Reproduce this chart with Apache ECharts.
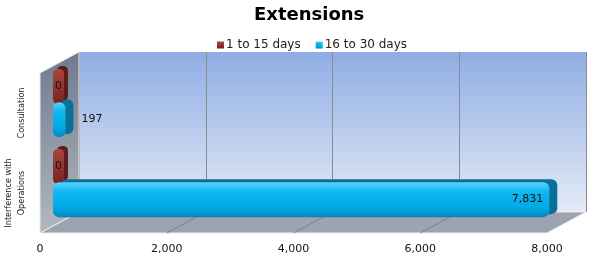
<!DOCTYPE html>
<html><head><meta charset="utf-8">
<script src="https://cdn.jsdelivr.net/npm/echarts@6/dist/echarts.min.js"></script>
<style>html,body{margin:0;padding:0;background:#fff}#c{width:590px;height:255px}</style>
</head><body><div id="c"></div>
<script>
const categories = ['Consultation', 'Interference with\nOperations'];
const seriesNames = ['1 to 15 days', '16 to 30 days'];
const days1to15 = [0, 0];
const days16to30 = [197, 7831];
const tickValues = [0, 2000, 4000, 6000, 8000];
const axisMax = 8000;

const FONT = 'DejaVu Sans';
// layout (front plane, back wall, bar plane)
const front = {left: 40, top: 73, width: 507, height: 160};
const back = {left: 79, top: 52, width: 507, height: 160};
const bars = {left: 53, top: 63, width: 507, height: 160};

const chart = echarts.init(document.getElementById('c'), null, {renderer: 'canvas'});
const fmt = v => v.toLocaleString('en-US');

const option = {
  animation: false,
  title: {text: 'Extensions', left: 249, top: 1,
    textStyle: {fontFamily: FONT, fontSize: 18, fontWeight: 'bold', color: '#000'}},
  legend: {left: 212, top: 34, itemWidth: 7, itemHeight: 7, itemGap: 15,
    icon: 'rect', data: seriesNames,
    textStyle: {fontFamily: FONT, fontSize: 12, color: '#222', padding: [0,0,0,-3]}},
  grid: [
    Object.assign({show: true, borderWidth: 0,
      backgroundColor: new echarts.graphic.LinearGradient(0,0,0,1,[
        {offset:0,color:'#8fade4'},{offset:1,color:'#e4ebf7'}])}, back),
    Object.assign({}, front),
    Object.assign({}, bars)
  ],
  xAxis: [
    {type:'value', gridIndex:0, min:0, max:axisMax, interval:2000,
     axisLine:{show:false}, axisTick:{show:false}, axisLabel:{show:false},
     splitLine:{show:true, lineStyle:{color:'#8c8c8c', width:1}}},
    {type:'value', gridIndex:1, min:0, max:axisMax, interval:2000,
     axisLine:{show:false}, axisTick:{show:false}, splitLine:{show:false},
     axisLabel:{show:true, margin:11, fontFamily:FONT, fontSize:11, color:'#111', formatter: v => fmt(v)}},
    {type:'value', gridIndex:2, min:0, max:axisMax, show:false}
  ],
  yAxis: [
    {type:'category', gridIndex:0, data:categories, show:false},
    {type:'category', gridIndex:1, data:categories, inverse:true,
     axisLine:{show:false}, axisTick:{show:false},
     axisLabel:{interval:0, rotate:90, margin:12, fontFamily:'DejaVu Sans Condensed, Liberation Sans, sans-serif', fontSize:9, color:'#222', lineHeight:13}},
    {type:'category', gridIndex:2, data:categories, inverse:true, show:false}
  ],
  series: [
    {name: seriesNames[0], type:'bar', xAxisIndex:2, yAxisIndex:2,
     data: days1to15, barWidth:35, barGap:'-5%', barMinHeight:11, z:3,
     itemStyle:{
       color: new echarts.graphic.LinearGradient(0,0,0,1,[
         {offset:0,color:'#a8473f'},{offset:0.5,color:'#93352f'},{offset:1,color:'#72231f'}]),
       borderRadius:5, shadowColor:'#5e1d1a', shadowOffsetX:4, shadowOffsetY:-3, shadowBlur:0},
     label:{show:true, position:'insideLeft', distance:2, fontFamily:FONT, fontSize:11, color:'#111',
       formatter: p => fmt(p.value)}},
    {name: seriesNames[1], type:'bar', xAxisIndex:2, yAxisIndex:2,
     data: days16to30.map(v => ({value: v,
       label: v > axisMax/2 ? {position:'insideRight', distance:6} : {position:'right', distance:16}})),
     barWidth:35, barGap:'-5%', z:3,
     itemStyle:{
       color: new echarts.graphic.LinearGradient(0,0,0,1,[
         {offset:0,color:'#5fd3fa'},{offset:0.25,color:'#12b8f2'},{offset:0.75,color:'#00a8e6'},{offset:1,color:'#0086bd'}]),
       borderRadius:6, shadowColor:'#0a7099', shadowOffsetX:8, shadowOffsetY:-3, shadowBlur:0},
     label:{show:true, fontFamily:FONT, fontSize:11, color:'#111',
       formatter: p => fmt(p.value)}}
  ]
};
chart.setOption(option);

// 3D frame: left wall and floor, derived from layout + axes
const fL = front.left, fB = front.top + front.height, fT = front.top;
const bL = back.left, bB = back.top + back.height, bT = back.top, bR = back.left + back.width;
const fR = front.left + front.width;
const gfx = [
  {type:'polygon', z:1, shape:{points:[[fL,fT],[bL,bT],[bL,bB],[fL,fB]]},
   style:{fill: new echarts.graphic.LinearGradient(0,0,0,1,[
     {offset:0,color:'#6f7b90'},{offset:1,color:'#b3b7bf'}]), stroke:'#e8e8e8', lineWidth:1}},
  {type:'polygon', z:1, shape:{points:[[fL,fB],[bL,bB],[bR,bB],[fR,fB]]},
   style:{fill:'#9ea3b2', stroke:'#eeeeee', lineWidth:1}}
];
tickValues.slice(1, -1).forEach(v => {
  const xf = chart.convertToPixel({xAxisIndex:1}, v);
  const xb = chart.convertToPixel({xAxisIndex:0}, v);
  gfx.push({type:'line', z:1, shape:{x1:xf, y1:fB, x2:xb, y2:bB}, style:{stroke:'#7d8290', lineWidth:1}});
});
chart.setOption({graphic: gfx});
</script></body></html>
